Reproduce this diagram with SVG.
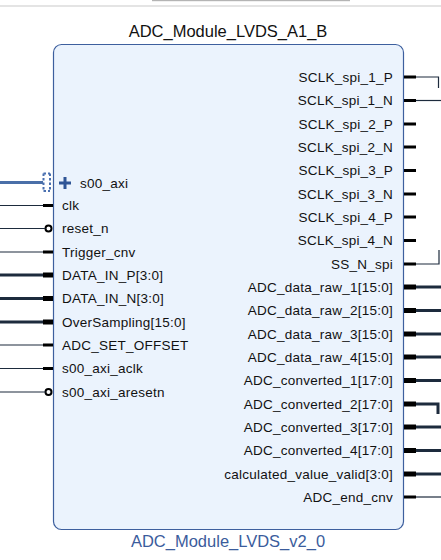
<svg xmlns="http://www.w3.org/2000/svg" width="441" height="560" viewBox="0 0 441 560">
<style>
.t{font-family:"Liberation Sans",Arial,sans-serif;font-size:13.5px;letter-spacing:0.25px;fill:#111}
.r{text-anchor:end}
.ttl{font-family:"Liberation Sans",Arial,sans-serif;font-size:16.5px;fill:#111;text-anchor:middle}
.sub{font-family:"Liberation Sans",Arial,sans-serif;font-size:16.5px;fill:#3b5c9c;text-anchor:middle}
.w{stroke:#1d2b3d;stroke-width:1.2;fill:none}
.b{stroke:#1d2b3d;stroke-width:3;fill:none}
.s{stroke:#000;stroke-width:3;fill:none}
.sb{stroke:#000;stroke-width:5;fill:none}
.inv{stroke:#000;stroke-width:2;fill:#fff}
</style>
<rect x="152" y="0" width="198" height="1.2" fill="#b4b4b4"/>
<rect x="0" y="5" width="441" height="2" fill="#e4e4e4"/>
<g id="block">
<text class="ttl" x="228" y="37">ADC_Module_LVDS_A1_B</text>
<rect x="53.5" y="44.5" width="350" height="485" rx="8" fill="#ebf3fd" stroke="#3d5f9e" stroke-width="1.2"/>
<text class="sub" x="228" y="547">ADC_Module_LVDS_v2_0</text>
</g>
<g id="ports-left">
<path d="M43.5 173.5V191M50 173.5V191M43.5 173.5H50M43.5 191H50" fill="none" stroke="#4a70b0" stroke-width="2" stroke-dasharray="2.5,2"/>
<path d="M59 183H71M65 177V189" stroke="#2f5596" stroke-width="3"/>
<text class="t" x="80" y="188">s00_axi</text>
<path class="s" d="M43 205.5H53"/><text class="t" x="62" y="210">clk</text>
<circle class="inv" cx="48.5" cy="228.5" r="3"/><text class="t" x="62" y="233">reset_n</text>
<path class="s" d="M43 252H53"/><text class="t" x="62" y="257">Trigger_cnv</text>
<path class="sb" d="M43 275H53"/><text class="t" x="62" y="280">DATA_IN_P[3:0]</text>
<path class="sb" d="M43 298.5H53"/><text class="t" x="62" y="303">DATA_IN_N[3:0]</text>
<path class="sb" d="M43 322H53"/><text class="t" x="62" y="327">OverSampling[15:0]</text>
<path class="s" d="M43 345H53"/><text class="t" x="62" y="350">ADC_SET_OFFSET</text>
<path class="s" d="M43 368.5H53"/><text class="t" x="62" y="373">s00_axi_aclk</text>
<circle class="inv" cx="48.5" cy="392" r="3"/><text class="t" x="62" y="397">s00_axi_aresetn</text>
</g>
<g id="ports-right">
<path class="s" d="M404 77H416"/><text class="t r" x="393" y="82">SCLK_spi_1_P</text>
<path class="s" d="M404 100.5H416"/><text class="t r" x="393" y="105">SCLK_spi_1_N</text>
<path class="s" d="M404 124H416"/><text class="t r" x="393" y="129">SCLK_spi_2_P</text>
<path class="s" d="M404 147H416"/><text class="t r" x="393" y="152">SCLK_spi_2_N</text>
<path class="s" d="M404 170.5H416"/><text class="t r" x="393" y="175">SCLK_spi_3_P</text>
<path class="s" d="M404 194H416"/><text class="t r" x="393" y="199">SCLK_spi_3_N</text>
<path class="s" d="M404 217H416"/><text class="t r" x="393" y="222">SCLK_spi_4_P</text>
<path class="s" d="M404 240.5H416"/><text class="t r" x="393" y="245">SCLK_spi_4_N</text>
<path class="s" d="M404 264H416"/><text class="t r" x="393" y="269">SS_N_spi</text>
<path class="sb" d="M404 287H416"/><text class="t r" x="393" y="292">ADC_data_raw_1[15:0]</text>
<path class="sb" d="M404 310.5H416"/><text class="t r" x="393" y="315">ADC_data_raw_2[15:0]</text>
<path class="sb" d="M404 334H416"/><text class="t r" x="393" y="339">ADC_data_raw_3[15:0]</text>
<path class="sb" d="M404 357H416"/><text class="t r" x="393" y="362">ADC_data_raw_4[15:0]</text>
<path class="sb" d="M404 380.5H416"/><text class="t r" x="393" y="385">ADC_converted_1[17:0]</text>
<path class="sb" d="M404 404H416"/><text class="t r" x="393" y="409">ADC_converted_2[17:0]</text>
<path class="sb" d="M404 427H416"/><text class="t r" x="393" y="432">ADC_converted_3[17:0]</text>
<path class="sb" d="M404 450.5H416"/><text class="t r" x="393" y="455">ADC_converted_4[17:0]</text>
<path class="sb" d="M404 474H416"/><text class="t r" x="393" y="479">calculated_value_valid[3:0]</text>
<path class="s" d="M404 497H416"/><text class="t r" x="393" y="502">ADC_end_cnv</text>
</g>
<g id="connectors">
<path d="M0 182.5H43" stroke="#4a6fa8" stroke-width="3" fill="none"/>
<path class="w" d="M0 205.5H43"/>
<path class="w" d="M0 228.5H45.5"/>
<path class="w" d="M0 252H43"/>
<path class="b" d="M0 275H43"/>
<path class="b" d="M0 298.5H43"/>
<path class="b" d="M0 322H43"/>
<path class="w" d="M0 345H43"/>
<path class="w" d="M0 368.5H43"/>
<path class="w" d="M0 392H45.5"/>
<path class="w" d="M416 77H438.5V88"/>
<path class="w" d="M416 100.5H441"/>
<path class="w" d="M416 264H439V250"/>
<path class="b" d="M416 287H441"/>
<path class="b" d="M416 310.5H441"/>
<path class="b" d="M416 334H441"/>
<path class="b" d="M416 357H441"/>
<path class="b" d="M416 380.5H441"/>
<path class="b" d="M416 404H438V414"/>
<path class="b" d="M416 427H441"/>
<path class="b" d="M416 450.5H441"/>
<path class="b" d="M416 474H441"/>
<path class="w" d="M416 497H441"/>
</g>
</svg>
